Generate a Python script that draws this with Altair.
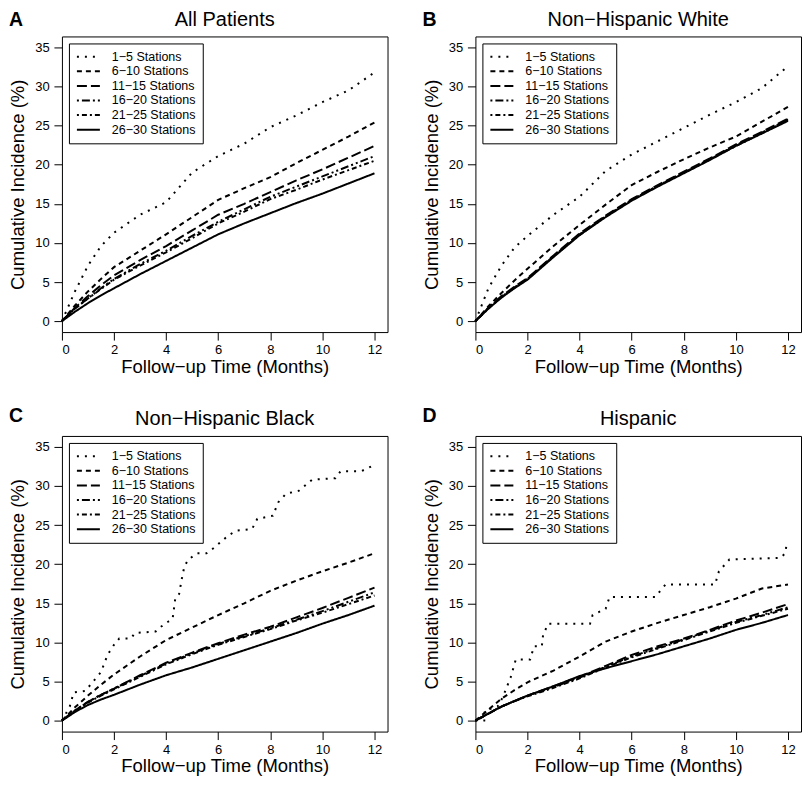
import altair as alt
import pandas as pd

SERIES = ["1−5 Stations", "6−10 Stations", "11−15 Stations",
          "16−20 Stations", "21−25 Stations", "26−30 Stations"]
DASHES = [[2, 6], [5, 4], [10, 4], [2, 3, 8, 3, 2, 3], [2, 3, 5, 3], [1, 0]]
WIDTHS = [2, 2, 2, 2, 2, 2.5]

T = [0, 0.5, 1, 1.5, 2, 3, 4, 5, 6, 7, 8, 9, 10, 11, 12]

# Panel A: All Patients
A1 = [0, 3.8, 7.1, 9.6, 11.3, 13.6, 15.2, 19.0, 21.1, 22.7, 24.8, 26.3, 28.0, 29.5, 31.8]
A2 = [0, 2.0, 3.8, 5.4, 6.9, 9.0, 11.1, 13.3, 15.5, 17.0, 18.4, 20.2, 21.9, 23.6, 25.4]
A3 = [0, 1.7, 3.2, 4.6, 5.85, 7.8, 9.6, 11.6, 13.6, 15.0, 16.5, 18.0, 19.4, 20.9, 22.4]
A4 = [0, 1.6, 2.9, 4.2, 5.4, 7.3, 9.0, 10.9, 12.7, 14.3, 15.9, 17.2, 18.5, 19.8, 21.1]
A5 = [0, 1.6, 2.9, 4.1, 5.3, 7.1, 8.8, 10.6, 12.5, 14.0, 15.6, 16.8, 18.1, 19.3, 20.5]
A6 = [0, 1.2, 2.3, 3.3, 4.2, 6.0, 7.7, 9.4, 11.1, 12.5, 13.8, 15.1, 16.3, 17.6, 18.9]

# Panel B: Non-Hispanic White
B1 = [0, 4.2, 7.1, 9.4, 10.9, 13.6, 15.9, 19.2, 21.3, 23.0, 24.7, 26.4, 28.0, 29.8, 32.6]
B2 = [0, 1.9, 3.6, 5.2, 6.7, 9.6, 12.3, 14.9, 17.4, 19.1, 20.7, 22.2, 23.6, 25.5, 27.4]
B3 = [0, 1.7, 3.2, 4.4, 5.5, 8.4, 11.2, 13.5, 15.6, 17.4, 19.1, 20.8, 22.6, 24.2, 25.9]
B4 = [0, 1.7, 3.1, 4.3, 5.4, 8.3, 11.1, 13.4, 15.5, 17.3, 19.0, 20.7, 22.5, 24.1, 25.8]
B5 = [0, 1.6, 3.1, 4.3, 5.4, 8.3, 11.0, 13.4, 15.5, 17.3, 19.0, 20.7, 22.4, 24.0, 25.7]
B6 = [0, 1.6, 3.0, 4.2, 5.3, 8.2, 11.0, 13.3, 15.4, 17.2, 18.9, 20.6, 22.4, 24.0, 25.6]

# Panel C: Non-Hispanic Black
C1_T = [0, 0.3, 0.45, 0.9, 1.1, 1.5, 1.75, 2.0, 2.2, 2.65, 2.8, 3.6, 3.8, 4.1, 4.25, 4.35,
        4.5, 4.6, 4.7, 4.85, 5.2, 5.55, 5.8, 6.4, 6.7, 7.3, 7.5, 8.1, 8.3, 8.6, 9.1, 9.6,
        10.5, 10.7, 11.5, 12.0]
C1 = [0, 1.8, 3.6, 3.8, 4.6, 6.2, 8.4, 9.7, 10.5, 10.5, 11.2, 11.4, 12.0, 12.7, 13.0, 15.6,
      16.2, 18.1, 19.7, 20.6, 21.4, 21.4, 22.0, 23.7, 24.3, 24.5, 25.8, 26.2, 27.9, 29.0, 29.4, 30.8,
      31.0, 31.9, 31.9, 32.7]
C2 = [0, 1.7, 3.2, 4.6, 5.9, 8.2, 10.3, 11.9, 13.5, 15.0, 16.6, 17.9, 19.1, 20.2, 21.4]
C3 = [0, 1.3, 2.4, 3.3, 4.1, 5.8, 7.4, 8.7, 9.9, 11.0, 12.0, 13.2, 14.4, 15.7, 17.0]
C4 = [0, 1.3, 2.4, 3.3, 4.1, 5.7, 7.3, 8.6, 9.8, 10.8, 11.8, 12.9, 14.0, 15.2, 16.4]
C5 = [0, 1.2, 2.3, 3.2, 4.0, 5.6, 7.2, 8.5, 9.7, 10.7, 11.7, 12.8, 13.8, 14.9, 16.0]
C6 = [0, 1.1, 2.0, 2.7, 3.3, 4.6, 5.8, 6.8, 7.9, 9.0, 10.1, 11.2, 12.4, 13.5, 14.7]

# Panel D: Hispanic
D1_T = [0, 0.34, 0.36, 0.85, 1.05, 1.35, 1.55, 2.1, 2.25, 2.55, 2.6, 2.8, 4.4, 4.5, 5.0, 5.15,
        6.9, 7.3, 9.2, 9.35, 9.75, 11.7, 11.9, 11.95]
D1 = [0, 0, 1.3, 1.8, 3.0, 5.5, 7.8, 7.8, 9.5, 9.5, 11.0, 12.4, 12.4, 13.5, 14.3, 15.8,
      15.8, 17.4, 17.4, 19.1, 20.6, 20.8, 21.4, 22.7]
D2 = [0, 1.4, 2.8, 3.9, 4.9, 6.4, 8.2, 10.1, 11.4, 12.5, 13.5, 14.5, 15.6, 16.9, 17.4]
D3 = [0, 0.9, 1.8, 2.5, 3.2, 4.4, 5.6, 7.0, 8.4, 9.5, 10.5, 11.6, 12.8, 13.8, 14.9]
D4 = [0, 0.9, 1.8, 2.5, 3.2, 4.3, 5.5, 6.9, 8.2, 9.3, 10.4, 11.5, 12.6, 13.5, 14.5]
D5 = [0, 0.9, 1.8, 2.5, 3.1, 4.2, 5.4, 6.8, 8.1, 9.2, 10.3, 11.4, 12.5, 13.4, 14.3]
D6 = [0, 0.9, 1.8, 2.5, 3.2, 4.4, 5.7, 6.7, 7.6, 8.5, 9.5, 10.5, 11.6, 12.5, 13.5]

PANELS = [
    ("A", "All Patients", [(T, A1), (T, A2), (T, A3), (T, A4), (T, A5), (T, A6)]),
    ("B", "Non−Hispanic White", [(T, B1), (T, B2), (T, B3), (T, B4), (T, B5), (T, B6)]),
    ("C", "Non−Hispanic Black", [(C1_T, C1), (T, C2), (T, C3), (T, C4), (T, C5), (T, C6)]),
    ("D", "Hispanic", [(D1_T, D1), (T, D2), (T, D3), (T, D4), (T, D5), (T, D6)]),
]

FONT = "Liberation Sans"
W, H = 326, 296


def make_df(series_list):
    rows = []
    for name, (ts, vs) in zip(SERIES, series_list):
        for i, (t, v) in enumerate(zip(ts, vs)):
            rows.append({"series": name, "t": t, "v": v, "i": i})
    return pd.DataFrame(rows)


def panel(letter, title, series_list, letter_y, title_y):
    df = make_df(series_list)
    lines = alt.Chart(df).mark_line(color="black").encode(
        x=alt.X("t:Q", title="Follow−up Time (Months)",
                scale=alt.Scale(domain=[0, 12.5], nice=False, zero=False),
                axis=alt.Axis(values=[0, 2, 4, 6, 8, 10, 12])),
        y=alt.Y("v:Q", title="Cumulative Incidence (%)",
                scale=alt.Scale(domain=[-1.4, 36.4], nice=False, zero=False),
                axis=alt.Axis(values=[0, 5, 10, 15, 20, 25, 30, 35])),
        strokeDash=alt.StrokeDash(
            "series:N",
            scale=alt.Scale(domain=SERIES, range=DASHES),
            legend=alt.Legend(title=None, orient="top-left", offset=7,
                              fillColor="white", strokeColor="black",
                              padding=7, labelFontSize=12.5, labelFont=FONT,
                              labelColor="black", symbolType="stroke",
                              symbolSize=529, symbolStrokeWidth=1.3,
                              symbolStrokeColor="black", rowPadding=1.6,
                              clipHeight=12.6, labelOffset=11, labelLimit=300,
                              cornerRadius=0),
        ),
        strokeWidth=alt.StrokeWidth(
            "series:N", scale=alt.Scale(domain=SERIES, range=WIDTHS), legend=None
        ),
        order=alt.Order("i:Q"),
    )
    texts = pd.DataFrame({"letter": [letter], "title": [title]})
    lab = alt.Chart(texts).mark_text(
        align="left", baseline="top", fontSize=19.5, fontWeight="bold",
        font=FONT, color="black"
    ).encode(text="letter:N", x=alt.value(-53), y=alt.value(letter_y))
    ttl = alt.Chart(texts).mark_text(
        align="center", baseline="alphabetic", fontSize=20, fontWeight="normal",
        font=FONT, color="black"
    ).encode(text="title:N", x=alt.value(W / 2), y=alt.value(title_y))
    return alt.layer(lines, lab, ttl).properties(width=W, height=H)


pa = panel(*PANELS[0], letter_y=-25.5, title_y=-10.8)
pb = panel(*PANELS[1], letter_y=-25.5, title_y=-10.8)
pc = panel(*PANELS[2], letter_y=-29, title_y=-10.5)
pd_ = panel(*PANELS[3], letter_y=-29, title_y=-10.5)

row1 = alt.hconcat(pa, pb, spacing=33).resolve_scale(
    strokeDash="independent", strokeWidth="independent").resolve_legend(strokeDash="independent")
row2 = alt.hconcat(pc, pd_, spacing=33).resolve_scale(
    strokeDash="independent", strokeWidth="independent").resolve_legend(strokeDash="independent")

chart = alt.vconcat(row1, row2, spacing=29).resolve_scale(
    strokeDash="independent", strokeWidth="independent").resolve_legend(
    strokeDash="independent").properties(
    padding=0, background="white"
).configure_view(
    stroke="black", strokeWidth=1, fill="white"
).configure_axis(
    grid=False, domain=False, tickColor="black", tickSize=8, tickWidth=1,
    labelColor="black", titleColor="black", labelFont=FONT, titleFont=FONT,
    labelFontSize=13, titleFontSize=18.5, titleFontWeight="normal",
).configure_axisX(
    labelPadding=3.5, titleY=40, titleBaseline="alphabetic"
).configure_axisY(
    labelPadding=4.7, titleX=-38.3, titleBaseline="alphabetic"
).configure_legend(
    strokeWidth=1
)

chart.save("out.html", embed_options={"renderer": "svg", "actions": False})
